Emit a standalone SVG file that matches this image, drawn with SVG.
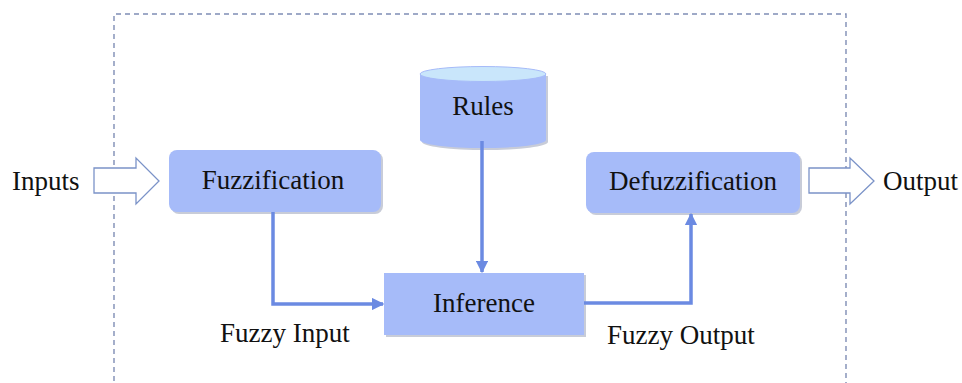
<svg xmlns="http://www.w3.org/2000/svg" width="962" height="383" viewBox="0 0 962 383">
  <style>
    .lbl { font-family: "Liberation Serif", "Times New Roman", serif; font-size: 27px; fill: #111; }
    .box { fill: #a6bbf9; }
    .shadow { fill: #9aa3b8; opacity: 0.55; }
    .conn { fill: none; stroke: #6b8ae2; stroke-width: 3.5; }
    .hollow { fill: #ffffff; stroke: #7b93c8; stroke-width: 1.3; }
  </style>
  <defs>
    <marker id="head" viewBox="0 0 10 10" refX="9" refY="5" markerWidth="3.6" markerHeight="3.6" orient="auto" markerUnits="strokeWidth">
      <path d="M0,0 L10,5 L0,10 z" fill="#6b8ae2"/>
    </marker>
  </defs>
  <rect width="962" height="383" fill="#ffffff"/>

  <!-- system boundary -->
  <path d="M114,390 L114,14 L846,14 L846,390" fill="none" stroke="#7f8db5" stroke-width="1.4" stroke-dasharray="5,4"/>

  <!-- external input -->
  <g id="inputs">
    <text class="lbl" x="12" y="190">Inputs</text>
    <path class="hollow" d="M94,168 L136,168 L136,158 L159,181 L136,204 L136,193 L94,193 z"/>
  </g>

  <g id="fuzzification">
    <rect class="shadow" x="171" y="152" width="212" height="62" rx="8"/>
    <rect class="box" x="169" y="150" width="212" height="62" rx="8"/>
    <text class="lbl" x="273" y="189" text-anchor="middle">Fuzzification</text>
  </g>

  <g id="rules">
    <path class="shadow" d="M422,76 L548,76 L548,142 A63,8 0 0 1 422,142 z"/>
    <path class="box" d="M420,74 L546,74 L546,140 A63,8 0 0 1 420,140 z"/>
    <ellipse cx="483" cy="74" rx="63" ry="7.5" fill="#c9e6fb" stroke="#a6bbf9" stroke-width="1"/>
    <text class="lbl" x="483" y="115" text-anchor="middle">Rules</text>
  </g>

  <g id="inference">
    <rect class="shadow" x="386" y="275" width="200" height="62"/>
    <rect class="box" x="384" y="273" width="200" height="62"/>
    <text class="lbl" x="484" y="312" text-anchor="middle">Inference</text>
  </g>

  <g id="defuzzification">
    <rect class="shadow" x="588" y="154" width="214" height="61" rx="8"/>
    <rect class="box" x="586" y="152" width="214" height="61" rx="8"/>
    <text class="lbl" x="693" y="190" text-anchor="middle">Defuzzification</text>
  </g>

  <!-- external output -->
  <g id="output">
    <path class="hollow" d="M809,168 L850,168 L850,158 L874,181 L850,204 L850,193 L809,193 z"/>
    <text class="lbl" x="883" y="190">Output</text>
  </g>

  <g id="connectors">
    <path class="conn" d="M273,212 L273,304 L383,304" marker-end="url(#head)"/>
    <path class="conn" d="M482,141 L482,272" marker-end="url(#head)"/>
    <path class="conn" d="M584,303 L691,303 L691,214" marker-end="url(#head)"/>
    <text class="lbl" x="220" y="342">Fuzzy Input</text>
    <text class="lbl" x="607" y="344">Fuzzy Output</text>
  </g>
</svg>
